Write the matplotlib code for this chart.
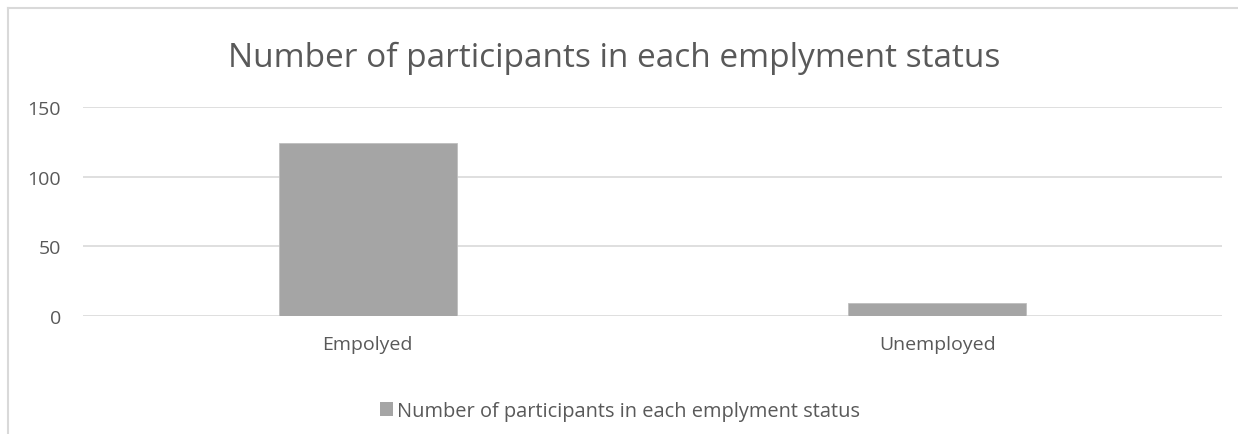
import matplotlib.pyplot as plt
from matplotlib.lines import Line2D
from matplotlib.patches import Patch

plt.rcParams["font.family"] = ["Open Sans", "DejaVu Sans"]

categories = ["Empolyed", "Unemployed"]
counts = [124, 9]
y_ticks = [0, 50, 100, 150]
series_name = "Number of participants in each emplyment status"

text_color = "#595959"
grid_color = "#d9d9d9"
bar_color = "#a5a5a5"

fig = plt.figure(figsize=(12.38, 4.35), dpi=100)
ax = fig.add_axes([83 / 1238, 1 - 317 / 435, (1222 - 83) / 1238, (317 - 108) / 435])

x = list(range(len(categories)))
ax.bar(x, counts, width=0.3125, color=bar_color, edgecolor="#bfbfbf", linewidth=0.6, zorder=3)
ax.set_xlim(-0.5, len(categories) - 0.5)
ax.set_ylim(0, 150)
ax.set_yticks(y_ticks)
ax.set_xticks(x)
ax.set_xticklabels(categories)
ax.yaxis.grid(True, color=grid_color, linewidth=1.2, zorder=0)
ax.set_axisbelow(True)
for s in ax.spines.values():
    s.set_visible(False)
ax.tick_params(axis="both", length=0, labelsize=14, colors=text_color)
ax.tick_params(axis="y", pad=16)
ax.tick_params(axis="x", pad=14)

fig.text(614 / 1238, 1 - 58 / 435, series_name, ha="center", va="center",
         fontsize=24, color=text_color)

handle = Patch(facecolor=bar_color, edgecolor="none")
fig.legend([handle], [series_name], loc="center", bbox_to_anchor=(620 / 1238, 1 - 412 / 435),
           frameon=False, fontsize=14.4, labelcolor=text_color, handlelength=0.65, handleheight=0.65,
           handletextpad=0.2)

# chart area border (cropped in the reference)
fig.add_artist(Line2D([8 / 1238, 8 / 1238], [0, 1 - 9 / 435], color=grid_color, linewidth=1.5))
fig.add_artist(Line2D([8 / 1238, 1], [1 - 9 / 435, 1 - 9 / 435], color=grid_color, linewidth=1.5))

fig.savefig("out.png", dpi=100)
plt.close(fig)
